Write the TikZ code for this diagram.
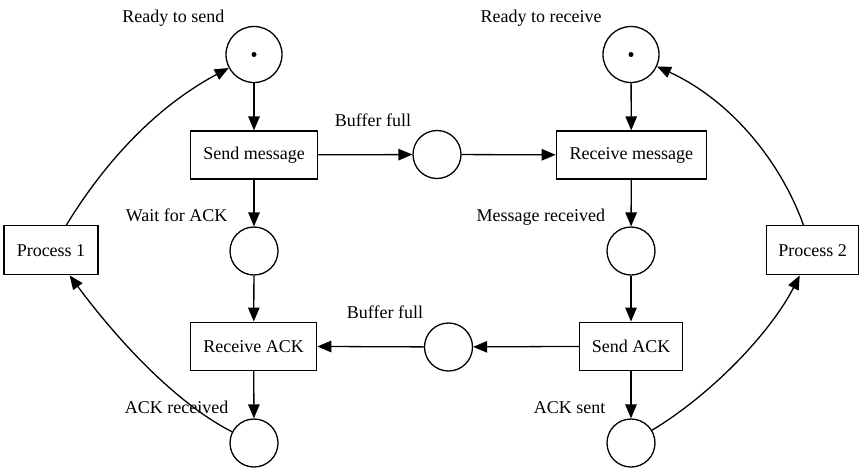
\documentclass[tikz,border=0pt]{standalone}
\usepackage{fontspec}
\setmainfont{Liberation Serif}
\usetikzlibrary{arrows.meta}
\begin{document}
\begin{tikzpicture}[x=1pt,y=-1pt, line width=1.3pt,
  place/.style={draw, circle, inner sep=0pt, minimum size=48pt},
  tokplace/.style={place, minimum size=56pt},
  trans/.style={draw, rectangle, inner sep=0pt, minimum height=48pt, font=\fontsize{18}{20}\selectfont},
  lbl/.style={anchor=base, inner sep=0pt, font=\fontsize{18}{20}\selectfont},
  arc/.style={-{Triangle[length=14pt,width=11.5pt]}},
  token/.style={fill, circle, inner sep=0pt, minimum size=5pt}
]
\useasboundingbox (0,0) rectangle (864,472);
% places
\node[tokplace] (rts) at (254,54.5) {};
\node[token] (rtsdot) at (rts.center) {};
\node[tokplace] (rtr) at (631,54.5) {};
\node[token] (rtrdot) at (rtr.center) {};
\node[place] (bf1) at (437,154.5) {};
\node[place] (bf2) at (448.5,347) {};
\node[place] (wait) at (254,251) {};
\node[place] (msgrec) at (631,251) {};
\node[place] (ackrec) at (254,443) {};
\node[place] (acksent) at (631,443) {};
% transitions
\node[trans, minimum width=127pt] (sendmsg) at (254,155) {Send message};
\node[trans, minimum width=150pt] (recvmsg) at (631.3,155) {Receive message};
\node[trans, minimum width=94pt, minimum height=49pt] (p1) at (51,250.2) {Process 1};
\node[trans, minimum width=92pt, minimum height=49pt] (p2) at (812.5,250.2) {Process 2};
\node[trans, minimum width=126pt] (recvack) at (253.7,346.2) {Receive ACK};
\node[trans, minimum width=103pt] (sendack) at (631,346.2) {Send ACK};
% labels
\node[lbl] (l1) at (173.3,22.5) {Ready to send};
\node[lbl] (l2) at (541.2,22.5) {Ready to receive};
\node[lbl] (l3) at (373,126) {Buffer full};
\node[lbl] (l4) at (176.7,221.7) {Wait for ACK};
\node[lbl] (l5) at (540.8,221.7) {Message received};
\node[lbl] (l6) at (385,318) {Buffer full};
\node[lbl] (l7) at (176.7,413.7) {ACK received};
\node[lbl] (l8) at (569.5,413.7) {ACK sent};
% straight arcs
\draw[arc] (rts) -- (sendmsg);
\draw[arc] (sendmsg) -- (wait);
\draw[arc] (sendmsg) -- (bf1);
\draw[arc] (bf1) -- (recvmsg);
\draw[arc] (rtr) -- (recvmsg);
\draw[arc] (recvmsg) -- (msgrec);
\draw[arc] (msgrec) -- (sendack);
\draw[arc] (sendack) -- (bf2);
\draw[arc] (bf2) -- (recvack);
\draw[arc] (wait) -- (recvack);
\draw[arc] (recvack) -- (ackrec);
\draw[arc] (sendack) -- (acksent);
% curved arcs
\draw[arc] (p1) .. controls (100,170) and (150,110) .. (rts);
\draw[arc] (ackrec) .. controls (170,400) and (110,330) .. (p1);
\draw[arc] (acksent) .. controls (715,392) and (772,330) .. (p2);
\draw[arc] (p2) .. controls (780,160) and (730,100) .. (rtr);
\end{tikzpicture}
\end{document}
